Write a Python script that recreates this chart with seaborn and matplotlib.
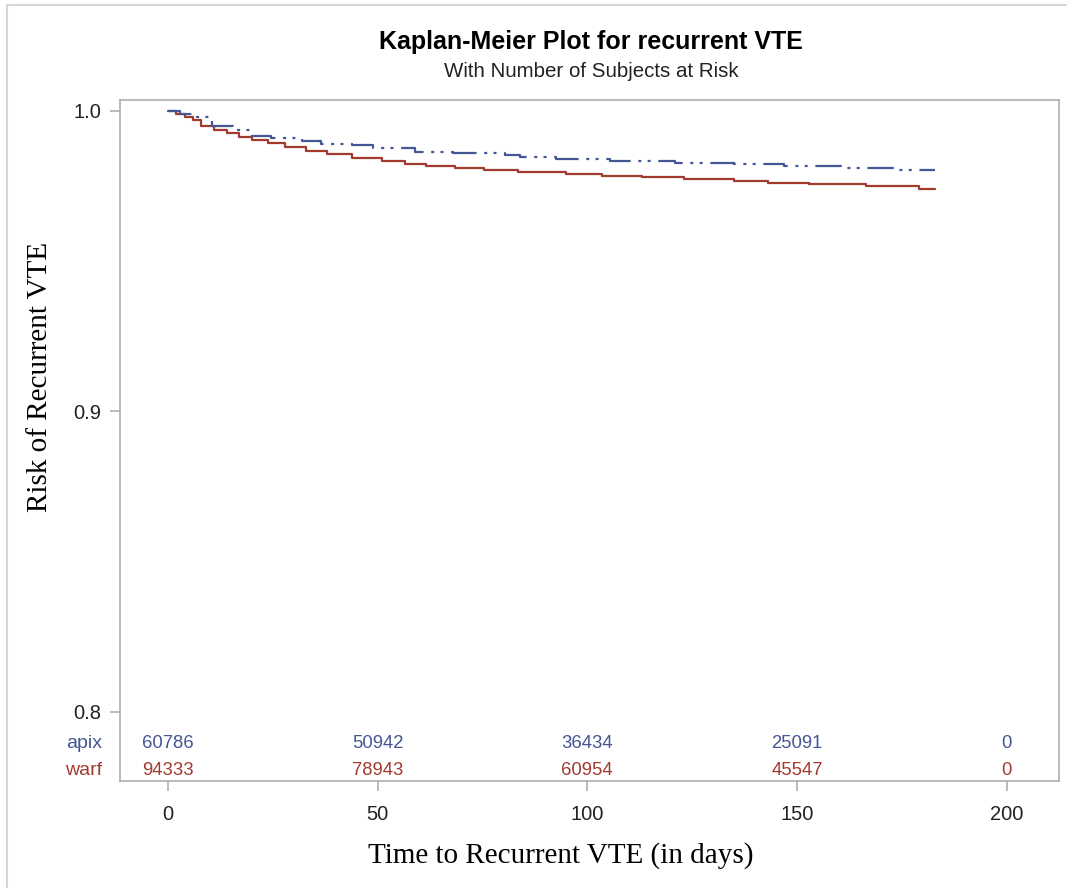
import matplotlib
matplotlib.use("Agg")
import matplotlib.pyplot as plt
import matplotlib.transforms as mtransforms
from matplotlib.lines import Line2D
import seaborn as sns
import pandas as pd

# ---- data ----
apix_time = [0, 3, 7, 10.5, 15.5, 20, 24.5, 32, 36.5, 44, 49, 59, 68, 80.5, 84,
             92.5, 105.5, 121, 135, 147, 161, 174, 183]
apix_surv = [1.0, 0.999, 0.998, 0.995, 0.9936, 0.9917, 0.9909, 0.9898, 0.9889,
             0.9886, 0.9876, 0.9864, 0.9858, 0.9854, 0.9847, 0.984, 0.9834,
             0.9827, 0.9821, 0.9815, 0.9808, 0.9803, 0.9803]
warf_time = [0, 2, 4, 6, 8, 11, 14, 17, 20, 24, 28, 33, 38, 44, 51, 56.5, 61.5,
             68.5, 75.5, 83.5, 95, 103.5, 113, 123, 135, 143, 153, 166.5, 179, 183]
warf_surv = [1.0, 0.999, 0.998, 0.997, 0.995, 0.9935, 0.9925, 0.9914, 0.9903,
             0.9892, 0.9878, 0.9866, 0.9856, 0.9843, 0.9832, 0.9823, 0.9817,
             0.981, 0.9803, 0.9796, 0.979, 0.9784, 0.9778, 0.9773, 0.9765,
             0.976, 0.9755, 0.9748, 0.974, 0.974]

risk_times = [0, 50, 100, 150, 200]
apix_risk = [60786, 50942, 36434, 25091, 0]
warf_risk = [94333, 78943, 60954, 45547, 0]
group_labels = ["apix", "warf"]

x_ticks = [0, 50, 100, 150, 200]
y_ticks = [0.8, 0.9, 1.0]

BLUE = "#445694"
RED = "#A23A2E"
GRID = "#A8A8A8"

sns.set_theme(style="white")
plt.rcParams["font.family"] = ["Liberation Sans", "DejaVu Sans"]
plt.rcParams["lines.scale_dashes"] = False

fig = plt.figure(figsize=(10.67, 8.88), dpi=100)
ax = fig.add_axes([0.1125, 0.1205, 0.9925 - 0.1125, 0.8874 - 0.1205])

df_a = pd.DataFrame({"t": apix_time, "s": apix_surv})
df_w = pd.DataFrame({"t": warf_time, "s": warf_surv})

sns.lineplot(data=df_w, x="t", y="s", ax=ax, color=RED, lw=1.6,
             drawstyle="steps-post", estimator=None)
sns.lineplot(data=df_a, x="t", y="s", ax=ax, color=BLUE, lw=1.6,
             drawstyle="steps-post", estimator=None,
             linestyle=(0, (19, 5.5, 2.2, 4.5, 2.2, 5.5)))

ax.set_xlim(-11.4, 212.5)
ax.set_ylim(0.77698, 1.00355)
ax.set_xticks(x_ticks)
ax.set_yticks(y_ticks)
ax.set_xticklabels([str(v) for v in x_ticks])
ax.set_yticklabels(["%.1f" % v for v in y_ticks])
ax.tick_params(axis="both", which="both", direction="out", length=7.5,
               width=1.1, color=GRID, labelsize=14.5, labelcolor="#222222",
               bottom=True, left=True)
ax.tick_params(axis="x", pad=10)
ax.tick_params(axis="y", pad=6)
for sp in ax.spines.values():
    sp.set_color(GRID)
    sp.set_linewidth(1.1)

ax.set_xlabel("Time to Recurrent VTE (in days)", family="Liberation Serif",
              fontsize=21, color="black")
ax.set_ylabel("Risk of Recurrent VTE", family="Liberation Serif",
              fontsize=21, color="black")
ax.xaxis.set_label_coords(0.4696, -0.110)
ax.yaxis.set_label_coords(-0.0852, 0.593)
ax.xaxis.label.set_va("center")
ax.yaxis.label.set_va("center")

# number at risk table
trans = mtransforms.blended_transform_factory(ax.transData, ax.transAxes)
for vals, col, yy in [(apix_risk, BLUE, 0.0554), (warf_risk, RED, 0.0151)]:
    for t, v in zip(risk_times, vals):
        ax.text(t, yy, str(v), transform=trans, ha="center", va="center",
                fontsize=13.3, color=col)
ax.text(-0.0195, 0.0554, group_labels[0], transform=ax.transAxes, ha="right",
        va="center", fontsize=14, color=BLUE)
ax.text(-0.0195, 0.0151, group_labels[1], transform=ax.transAxes, ha="right",
        va="center", fontsize=14, color=RED)

fig.text(0.554, 0.9527, "Kaplan-Meier Plot for recurrent VTE",
         ha="center", va="center", fontsize=18, fontweight="bold", color="black")
fig.text(0.554, 0.919, "With Number of Subjects at Risk",
         ha="center", va="center", fontsize=14.8, color="#222222")

# outer frame lines (top and left)
fig.add_artist(Line2D([7 / 1067, 1.0], [1 - 5 / 888, 1 - 5 / 888],
                      transform=fig.transFigure, color="#D6D6D6", lw=1.5))
fig.add_artist(Line2D([7 / 1067, 7 / 1067], [0.0, 1 - 5 / 888],
                      transform=fig.transFigure, color="#D6D6D6", lw=1.5))

fig.savefig("out.png", dpi=100)
